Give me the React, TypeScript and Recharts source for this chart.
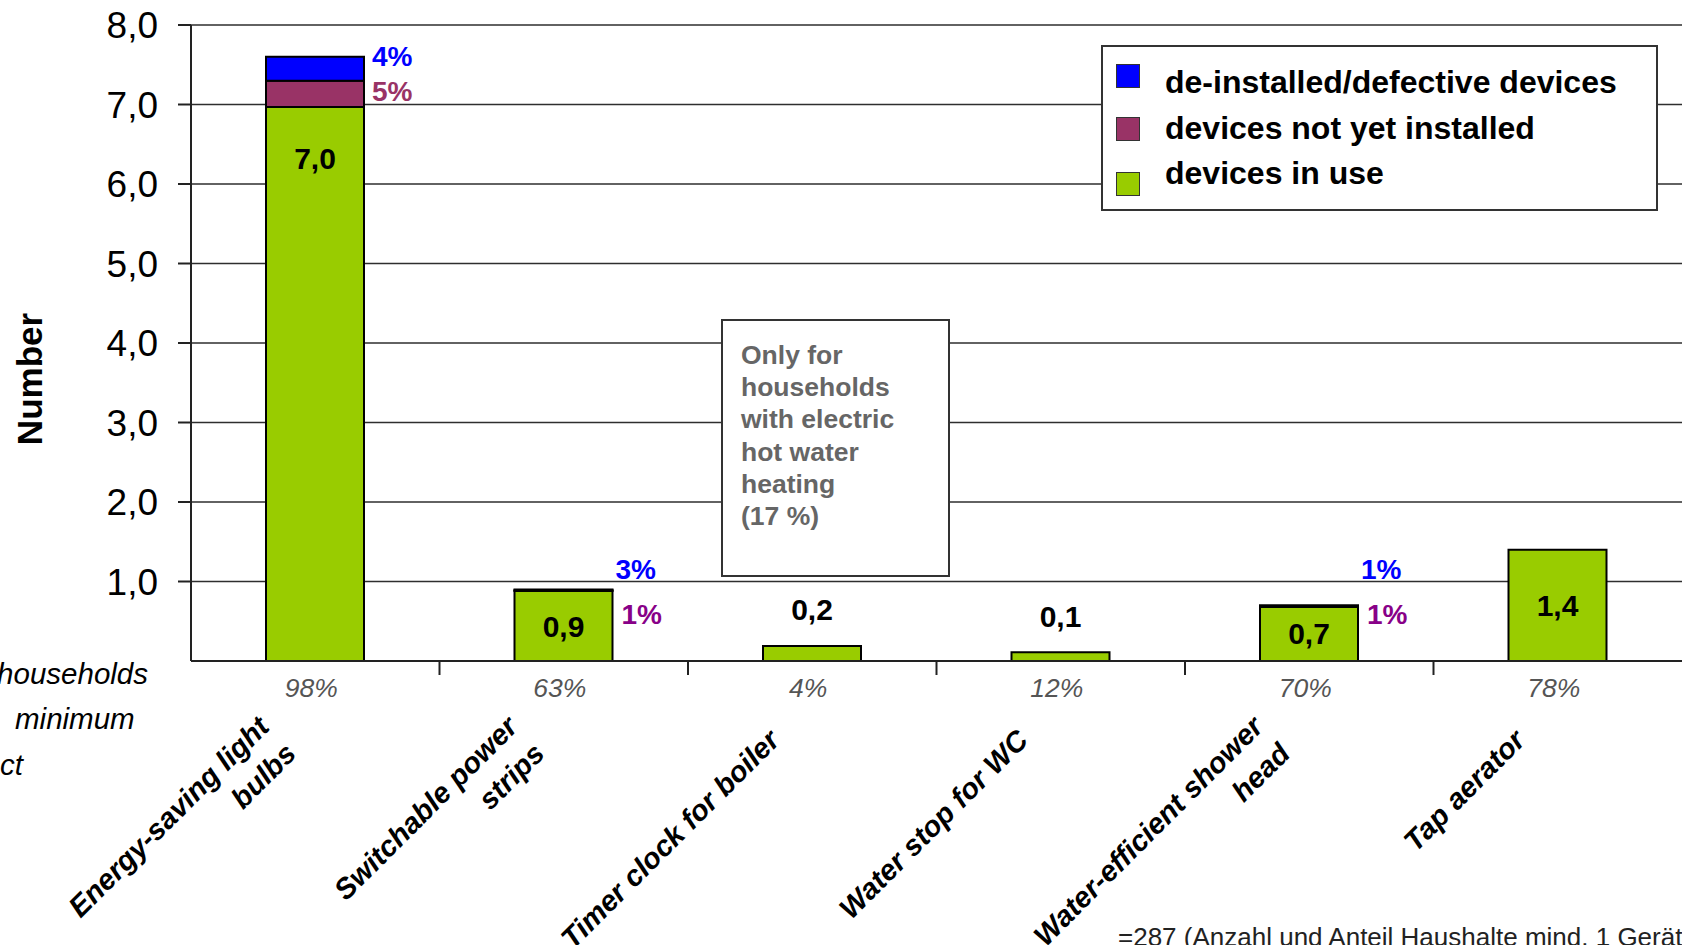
import { BarChart, Bar, XAxis, YAxis, CartesianGrid, Legend, LabelList } from "recharts";

const categories = [
  "Energy-saving light bulbs",
  "Switchable power strips",
  "Timer clock for boiler",
  "Water stop for WC",
  "Water-efficient shower head",
  "Tap aerator",
];
const categoryLines = [
  ["Energy-saving light", "bulbs"],
  ["Switchable power", "strips"],
  ["Timer clock for boiler"],
  ["Water stop for WC"],
  ["Water-efficient shower", "head"],
  ["Tap aerator"],
];
const inUse = [6.97, 0.88, 0.19, 0.11, 0.68, 1.4];
const notInstalled = [0.33, 0.01, 0, 0, 0.01, 0];
const defective = [0.3, 0.01, 0, 0, 0.01, 0];
const notInstalledPct = ["5%", "1%", "", "", "1%", ""];
const defectivePct = ["4%", "3%", "", "", "1%", ""];
const householdShare = ["98%", "63%", "4%", "12%", "70%", "78%"];
const yTicks = [1, 2, 3, 4, 5, 6, 7, 8];

const legendItems = [
  { label: "de-installed/defective devices", color: "#0000FF" },
  { label: "devices not yet installed", color: "#993366" },
  { label: "devices in use", color: "#99CC00" },
];

const data = categories.map((name, i) => ({
  name,
  inUse: inUse[i],
  notInstalled: notInstalled[i],
  defective: defective[i],
}));

const FONT = "'Liberation Sans', Arial, Helvetica, sans-serif";
const W = 1682;
const H = 945;
const Y_AXIS_W = 191;
const TOP = 25;
const X_AXIS_H = 284;
const Y_MAX = 8;
const BAND = (W - Y_AXIS_W) / categories.length;
const SWATCH_SHIFT = [-7, 1, 10];
const comma = (v: number) => v.toFixed(1).replace(".", ",");
// pixel row of a value on the y scale (for the small annotation texts next to thin segments)
const rowOf = (v: number) => TOP + ((Y_MAX - v) * (H - X_AXIS_H - TOP)) / Y_MAX;

const rectOf = (p: any) => {
  const v = p.viewBox || {};
  return {
    x: Number(p.x ?? v.x),
    y: Number(p.y ?? v.y),
    width: Number(p.width ?? v.width),
    height: Number(p.height ?? v.height),
  };
};

// zero-height segments may be skipped by LabelList, so find the category from the bar position
const bandIndex = (x: number, width: number) => Math.round((x + width / 2 - Y_AXIS_W - BAND / 2) / BAND);

function CategoryTick(props: any) {
  const { x, y, payload } = props;
  const i = categories.indexOf(payload.value);
  const lines = categoryLines[i] || [];
  const n = lines.length;
  const d = 38 * Math.SQRT1_2;
  const bx = x - 31 - ((n - 1) * d) / 2;
  const by = y + 81 - ((n - 1) * d) / 2;
  return (
    <g>
      {i > 0 && (
        <line x1={x - BAND / 2} x2={x - BAND / 2} y1={y} y2={y + 14} stroke="#222" strokeWidth={2} />
      )}
      <text
        x={x - 4}
        y={y + 27}
        textAnchor="middle"
        dominantBaseline="central"
        fontFamily={FONT}
        fontStyle="italic"
        fontSize={26.5}
        fill="#555"
      >
        {householdShare[i]}
      </text>
      {lines.map((l, k) => {
        const px = bx + k * d;
        const py = by + k * d;
        return (
          <text
            key={k}
            x={px}
            y={py}
            transform={`rotate(-45 ${px} ${py})`}
            textAnchor="end"
            fontFamily={FONT}
            fontWeight="bold"
            fontStyle="italic"
            fontSize={29}
            fill="#000"
          >
            {l}
          </text>
        );
      })}
    </g>
  );
}

function ValueLabel(props: any) {
  const { x, y, width, height } = rectOf(props);
  const v = inUse[bandIndex(x, width)];
  if (v === undefined) return null;
  let ty = y + height / 2;
  if (height > 400) ty = y + 52;
  else if (height < 40) ty = y - 36;
  return (
    <text
      x={x + width / 2}
      y={ty}
      textAnchor="middle"
      dominantBaseline="central"
      fontFamily={FONT}
      fontWeight="bold"
      fontSize={30}
      fill="#000"
    >
      {comma(v)}
    </text>
  );
}

function DefectiveLabel(props: any) {
  const { x, y, width, height } = rectOf(props);
  const t = defectivePct[bandIndex(x, width)];
  if (!t) return null;
  const thin = height < 5;
  return (
    <text
      x={x + width + (thin ? 3 : 8)}
      y={thin ? rowOf(1.15) : y}
      dominantBaseline="central"
      fontFamily={FONT}
      fontWeight="bold"
      fontSize={28}
      fill="#0000FF"
    >
      {t}
    </text>
  );
}

function NotInstalledLabel(props: any) {
  const { x, y, width, height } = rectOf(props);
  const t = notInstalledPct[bandIndex(x, width)];
  if (!t) return null;
  const thin = height < 5;
  return (
    <text
      x={x + width + (thin ? 9 : 8)}
      y={thin ? rowOf(0.59) : y + height / 2 - 2}
      dominantBaseline="central"
      fontFamily={FONT}
      fontWeight="bold"
      fontSize={28}
      fill={thin ? "#880088" : "#993366"}
    >
      {t}
    </text>
  );
}

function LegendBox() {
  return (
    <div
      style={{
        width: 557,
        height: 166,
        boxSizing: "border-box",
        border: "2px solid #333",
        background: "#fff",
        paddingTop: 13,
        fontFamily: FONT,
      }}
    >
      {legendItems.map((it, k) => (
        <div key={it.label} style={{ display: "flex", alignItems: "center", height: 45.5 }}>
          <div
            style={{
              width: 22,
              height: 22,
              background: it.color,
              border: "1px solid #333",
              marginLeft: 13,
              marginRight: 25,
              transform: `translateY(${SWATCH_SHIFT[k]}px)`,
            }}
          />
          <span style={{ fontSize: 32, fontWeight: "bold", color: "#000" }}>{it.label}</span>
        </div>
      ))}
    </div>
  );
}

const textStyle = { position: "absolute" as const, fontFamily: FONT, whiteSpace: "nowrap" as const };

export default function App() {
  return (
    <div style={{ position: "absolute", left: 0, top: 0, width: W, height: H, background: "#fff", overflow: "hidden" }}>
      <BarChart width={W} height={H} data={data} margin={{ top: TOP, right: 0, bottom: 0, left: 0 }} barSize={98}>
        <CartesianGrid vertical={false} stroke="#2e2e2e" strokeWidth={1.5} />
        <XAxis
          dataKey="name"
          height={X_AXIS_H}
          interval={0}
          axisLine={{ stroke: "#222", strokeWidth: 2 }}
          tickLine={false}
          tickSize={0}
          tickMargin={0}
          tick={<CategoryTick />}
        />
        <YAxis
          width={Y_AXIS_W}
          domain={[0, Y_MAX]}
          ticks={yTicks}
          allowDataOverflow
          axisLine={{ stroke: "#222", strokeWidth: 2 }}
          tickLine={{ stroke: "#222", strokeWidth: 2 }}
          tickSize={13}
          tickMargin={20}
          tickFormatter={comma}
          tick={{ fill: "#000", fontSize: 37, fontFamily: FONT }}
        />
        <Legend
          layout="horizontal"
          verticalAlign="middle"
          align="center"
          content={() => <LegendBox />}
          wrapperStyle={{ position: "absolute", left: 1101, top: 45, width: 557, height: 166 }}
        />
        <Bar dataKey="inUse" stackId="a" fill="#99CC00" stroke="#000" strokeWidth={2} isAnimationActive={false}>
          <LabelList content={<ValueLabel />} />
        </Bar>
        <Bar dataKey="notInstalled" stackId="a" fill="#993366" stroke="#000" strokeWidth={2} isAnimationActive={false}>
          <LabelList content={<NotInstalledLabel />} />
        </Bar>
        <Bar dataKey="defective" stackId="a" fill="#0000FF" stroke="#000" strokeWidth={2} isAnimationActive={false}>
          <LabelList content={<DefectiveLabel />} />
        </Bar>
      </BarChart>

      <div
        style={{
          ...textStyle,
          left: 30 - 150,
          top: 379 - 20,
          width: 300,
          height: 40,
          lineHeight: "40px",
          textAlign: "center",
          transform: "rotate(-90deg)",
          fontSize: 35,
          fontWeight: "bold",
        }}
      >
        Number
      </div>

      <div
        style={{
          position: "absolute",
          left: 721,
          top: 319,
          width: 229,
          height: 258,
          boxSizing: "border-box",
          border: "2px solid #333",
          background: "#fff",
          padding: "18px 0 0 18px",
          fontFamily: FONT,
          fontWeight: "bold",
          fontSize: 26.5,
          lineHeight: "32.2px",
          color: "#666",
        }}
      >
        Only for
        <br />
        households
        <br />
        with electric
        <br />
        hot water
        <br />
        heating
        <br />
        (17 %)
      </div>

      <div style={{ ...textStyle, right: W - 148, top: 674 - 17, fontSize: 29.5, fontStyle: "italic", lineHeight: "34px" }}>
        households
      </div>
      <div style={{ ...textStyle, left: 15, top: 719 - 17, fontSize: 29.5, fontStyle: "italic", lineHeight: "34px" }}>
        minimum
      </div>
      <div style={{ ...textStyle, left: 0, top: 765 - 17, fontSize: 29.5, fontStyle: "italic", lineHeight: "34px" }}>
        ct
      </div>
      <div style={{ ...textStyle, left: 1118, top: 922, fontSize: 26, lineHeight: "30px", color: "#222" }}>
        =287 (Anzahl und Anteil Haushalte mind. 1 Gerät)
      </div>
    </div>
  );
}
